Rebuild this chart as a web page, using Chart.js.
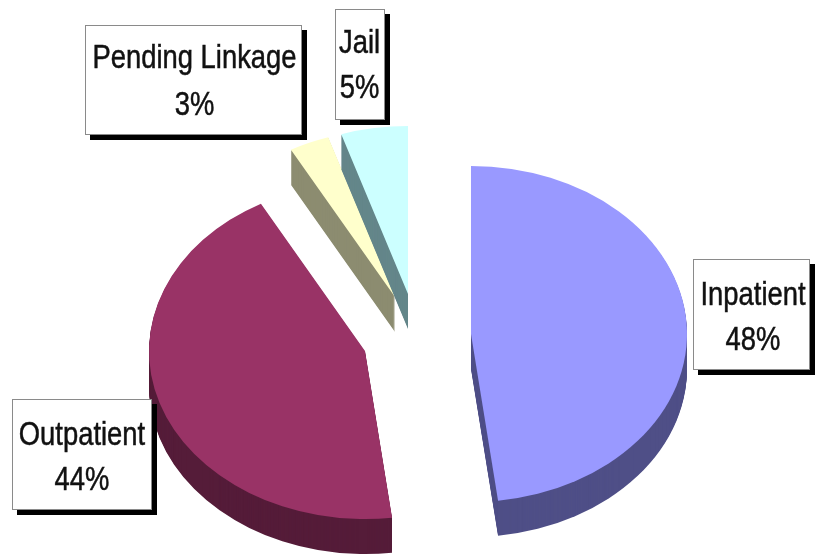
<!DOCTYPE html>
<html>
<head>
<meta charset="utf-8">
<style>html,body{margin:0;padding:0;background:#fff}#c{display:block}</style>
<script src="https://cdn.jsdelivr.net/npm/chart.js@4/dist/chart.umd.min.js"></script>
</head>
<body>
<div style="width:815px;height:555px"><canvas id="c" width="815" height="555"></canvas></div>
<script>
const categories = ['Inpatient', 'Outpatient', 'Pending Linkage', 'Jail'];
const shares = [48, 44, 3, 5];
const faceColors = ['#9999FF', '#993366', '#FFFFCC', '#CCFFFF'];
const sideColors = ['#4F4F87', '#551C39', '#8C8C70', '#64868A'];

// Where each exploded slice's point sits on the page, and the tilt of the pie
const sliceTips = [[471, 334], [365, 351], [395, 297], [408, 294]];
const drawOrder = [2, 3, 0, 1];
const tilt = 0.778, depth = 35;

// Callout boxes: x, y, w, h, text centre, first and second baseline
const callouts = [
  [693, 259, 117, 111, 753, 305, 350],
  [12, 399, 140, 111, 82, 445, 490],
  [85, 25, 217, 110, 194.5, 68, 115],
  [335, 9, 50, 111, 359.5, 53, 98]
];
const shadowOffset = 5, textSquash = 0.83;

const pie3d = {
  id: 'pie3d',
  beforeDatasetDraw(chart, args) {
    const ctx = chart.ctx, arcs = args.meta.data;
    drawOrder.forEach(i => {
      const el = arcs[i], cx = el.x, cy = el.y;
      const place = d => {
        ctx.translate(sliceTips[i][0], sliceTips[i][1] + d);
        ctx.scale(1, tilt);
        ctx.translate(-cx, -cy);
      };
      const face = el.options;
      el.options = Object.create(face, { backgroundColor: { value: sideColors[i] } });
      for (let d = depth; d > 0; d--) {
        ctx.save(); place(d); el.draw(ctx); ctx.restore();
      }
      el.options = face;
      ctx.save(); place(0); el.draw(ctx); ctx.restore();
    });
    return false;
  },
  afterDraw(chart) {
    const ctx = chart.ctx;
    callouts.forEach((b, i) => {
      const [x, y, w, h, tx, b1, b2] = b;
      ctx.save();
      ctx.fillStyle = '#000';
      ctx.fillRect(x + shadowOffset, y + shadowOffset, w, h);
      ctx.fillStyle = '#fff';
      ctx.fillRect(x, y, w, h);
      ctx.strokeStyle = '#8a8a8a';
      ctx.lineWidth = 1;
      ctx.strokeRect(x + .5, y + .5, w - 1, h - 1);
      ctx.fillStyle = '#111';
      ctx.strokeStyle = '#111';
      ctx.lineWidth = 0.5;
      ctx.font = '33px "Liberation Sans", Arial, sans-serif';
      ctx.textAlign = 'center';
      ctx.textBaseline = 'alphabetic';
      ctx.translate(tx, 0);
      ctx.scale(textSquash, 1);
      [[categories[i], b1], [shares[i] + '%', b2]].forEach(([t, yy]) => {
        ctx.fillText(t, 0, yy);
        ctx.strokeText(t, 0, yy);
      });
      ctx.restore();
    });
  }
};

new Chart(document.getElementById('c'), {
  type: 'pie',
  data: {
    labels: categories,
    datasets: [{ data: shares, backgroundColor: faceColors, borderWidth: 0, offset: 0 }]
  },
  options: {
    responsive: false,
    animation: false,
    radius: 216,
    layout: { padding: 0 },
    events: [],
    plugins: { legend: { display: false }, tooltip: { enabled: false } }
  },
  plugins: [pie3d]
});
</script>
</body>
</html>
